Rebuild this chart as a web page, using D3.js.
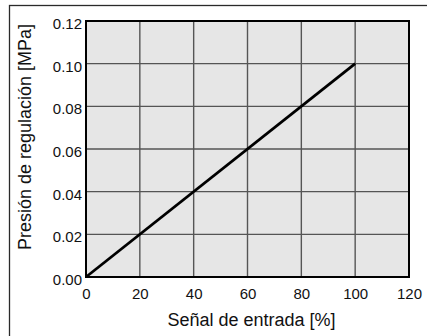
<!DOCTYPE html>
<html>
<head>
<meta charset="utf-8">
<script src="https://cdn.jsdelivr.net/npm/d3@7"></script>
<style>
  html, body { margin: 0; padding: 0; background: #fff; }
  svg { display: block; font-family: "Liberation Sans", Arial, Helvetica, sans-serif; }
</style>
</head>
<body>
<svg id="chart" width="427" height="336"></svg>
<script>
// Input signal (%) and regulated pressure (MPa)
const signal = [0, 100];
const pressure = [0, 0.10];

const xTicks = [0, 20, 40, 60, 80, 100, 120];
const yTicks = [0.00, 0.02, 0.04, 0.06, 0.08, 0.10, 0.12];

const xTitle = "Señal de entrada [%]";
const yTitle = "Presión de regulación [MPa]";

const svg = d3.select("#chart");
const margin = { left: 86, top: 21, right: 18, bottom: 59 };
const W = 427, H = 336;
const pw = W - margin.left - margin.right;
const ph = H - margin.top - margin.bottom;

// outer frame (only left and top edges fall inside the view)
svg.append("rect")
  .attr("x", 9.5).attr("y", 5.5)
  .attr("width", 440).attr("height", 360)
  .attr("fill", "none").attr("stroke", "#2a2a2a").attr("stroke-width", 1.3);

const x = d3.scaleLinear().domain([0, 120]).range([0, pw]);
const y = d3.scaleLinear().domain([0, 0.12]).range([ph, 0]);

const g = svg.append("g").attr("transform", `translate(${margin.left},${margin.top})`);

g.append("rect").attr("width", pw).attr("height", ph).attr("fill", "#e6e6e6");

// grid
g.append("g").selectAll("line").data(xTicks.slice(1, -1)).join("line")
  .attr("x1", d => x(d)).attr("x2", d => x(d))
  .attr("y1", 0).attr("y2", ph)
  .attr("stroke", "#555").attr("stroke-width", 1.4);
g.append("g").selectAll("line").data(yTicks.slice(1, -1)).join("line")
  .attr("y1", d => y(d)).attr("y2", d => y(d))
  .attr("x1", 0).attr("x2", pw)
  .attr("stroke", "#555").attr("stroke-width", 1.4);

// axes
const xAxis = d3.axisBottom(x).tickValues(xTicks).tickSize(0).tickPadding(11);
const yAxis = d3.axisLeft(y).tickValues(yTicks).tickSize(0).tickPadding(4)
  .tickFormat(d3.format(".2f"));

const gx = g.append("g").attr("transform", `translate(0,${ph})`).call(xAxis);
const gy = g.append("g").call(yAxis);
[gx, gy].forEach(a => {
  a.select(".domain").remove();
  a.selectAll("text").attr("fill", "#111").style("font-size", "15px")
    .style("font-family", "'Liberation Sans', Arial, sans-serif");
});
gy.selectAll("text").attr("dy", "0.5em");

g.append("rect").attr("width", pw).attr("height", ph)
  .attr("fill", "none").attr("stroke", "#000").attr("stroke-width", 2);

// response line
const line = d3.line().x(d => x(d[0])).y(d => y(d[1]));
g.append("path")
  .datum(signal.map((s, i) => [s, pressure[i]]))
  .attr("d", line)
  .attr("fill", "none").attr("stroke", "#000").attr("stroke-width", 2.8);

// titles
svg.append("text")
  .attr("x", margin.left + pw / 2 + 4).attr("y", 325.5)
  .attr("text-anchor", "middle").attr("fill", "#111")
  .style("font-size", "18px").text(xTitle);
svg.append("text")
  .attr("transform", `translate(31,137) rotate(-90)`)
  .attr("text-anchor", "middle").attr("fill", "#111")
  .style("font-size", "18px").text(yTitle);
</script>
</body>
</html>
